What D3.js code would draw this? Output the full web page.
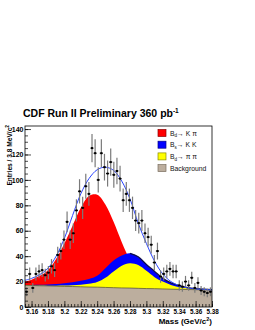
<!DOCTYPE html>
<html>
<head>
<meta charset="utf-8">
<script src="https://cdn.jsdelivr.net/npm/d3@7"></script>
<style>
	body { margin: 0; background: #fff; }
	text { font-family: "Liberation Sans", Arial, sans-serif; }
</style>
</head>
<body>
<div id="chart"></div>
<script>
// data points: entries per 3.8 MeV bin, first bin starts at 5.152
var binStart = 5.152;
var binWidth = 0.0038;
var counts = [12, 26, 15, 26, 28, 29, 25, 27, 32, 29, 41, 44, 53, 67, 53, 58, 76, 91, 78, 95,
	89, 125, 121, 100, 121, 110, 105, 114, 104, 107, 101, 84, 89, 84, 78, 68, 66, 68, 58, 55,
	49, 35, 44, 24, 26, 28, 30, 28, 28, 17, 16, 20, 17, 23, 15, 19, 13, 12, 11, 12];

// fit curves (stacked tops, in entries)
var massGrid = [5.152, 5.16, 5.17, 5.18, 5.19, 5.20, 5.21, 5.22, 5.23, 5.24, 5.25, 5.26,
	5.27, 5.28, 5.29, 5.30, 5.31, 5.32, 5.33, 5.34, 5.35, 5.36, 5.37, 5.38];
var kpiTop = [20, 21.5, 24.5, 29, 38, 50, 64, 78, 87.4, 88.3, 80.7, 67,
	51, 37, 27, 21, 17.5, 15.5, 14.5, 14.5, 14.4, 14.2, 14, 13.9];
var kkTop = [17.3, 17.4, 17.5, 17.7, 18.0, 18.6, 19.5, 20.6, 22.0, 24.5, 30.5, 36.5,
	40.5, 42.2, 39.5, 33.5, 28, 22.5, 19, 16.8, 15.3, 14.5, 14.0, 13.7];
var pipiTop = [17.1, 17.0, 16.9, 16.8, 16.8, 16.9, 17.1, 17.5, 18.2, 19.6, 23, 28,
	32.5, 34.4, 33, 28.5, 23.5, 20, 17.3, 15.6, 14.8, 14.2, 13.8, 13.5];
var bkgTop = [17.0, 16.9, 16.7, 16.6, 16.4, 16.2, 16.1, 15.9, 15.7, 15.6, 15.4, 15.2,
	15.0, 14.9, 14.7, 14.5, 14.4, 14.2, 14.0, 13.9, 13.8, 13.6, 13.5, 13.4];
var totalFit = [21, 22.5, 25.5, 30.5, 40, 54, 72, 89, 101, 108, 110, 107.5,
	99, 85, 66, 50, 36, 26, 20, 16.8, 15, 14.2, 13.8, 13.5];

var legendNames = [
	{ b: 'B', sub: 'd', rest: '\u2192 K \u03c0' },
	{ b: 'B', sub: 's', rest: '\u2192 K K' },
	{ b: 'B', sub: 'd', rest: '\u2192 \u03c0 \u03c0' },
	{ b: 'Background', sub: '', rest: '' }
];
var legendFill = ['#ff0000', '#0000ff', '#ffff00', '#bcae9e'];
var legendStroke = ['#8a0000', '#00008a', '#8a8a00', '#7a6e60'];

var xMajor = [5.16, 5.18, 5.20, 5.22, 5.24, 5.26, 5.28, 5.30, 5.32, 5.34, 5.36, 5.38];
var yMajor = [0, 20, 40, 60, 80, 100, 120, 140];

var options = {
	w: 255,
	h: 330,
	frame: { left: 25, right: 212, top: 126, bottom: 307 },
	xDomain: [5.152, 5.38],
	yDomain: [0, 142.4]
};

var svg = d3.select('#chart')
	.append('svg')
	.attr('width', options.w)
	.attr('height', options.h);

var x = d3.scaleLinear().domain(options.xDomain).range([options.frame.left, options.frame.right]);
var y = d3.scaleLinear().domain(options.yDomain).range([options.frame.bottom, options.frame.top]);

var rows = massGrid.map(function(m, i) {
	return { m: m, kpi: kpiTop[i], kk: kkTop[i], pipi: pipiTop[i], bkg: bkgTop[i], tot: totalFit[i] };
});

function areaFor(key) {
	return d3.area()
		.curve(d3.curveCatmullRom)
		.x(function(d) { return x(d.m); })
		.y0(y(0))
		.y1(function(d) { return y(d[key]); });
}
function lineFor(key) {
	return d3.line()
		.curve(d3.curveCatmullRom)
		.x(function(d) { return x(d.m); })
		.y(function(d) { return y(d[key]); });
}

svg.append('path').datum(rows).attr('d', areaFor('kpi')).attr('fill', '#ff0000');
svg.append('path').datum(rows).attr('d', areaFor('kk')).attr('fill', '#0000ff');
svg.append('path').datum(rows).attr('d', areaFor('pipi')).attr('fill', '#ffff00');
svg.append('path').datum(rows).attr('d', areaFor('bkg')).attr('fill', '#bcae9e');

// outlines
svg.append('path').datum(rows.filter(function(d) { return d.m >= 5.28; }))
	.attr('d', lineFor('kk')).attr('fill', 'none').attr('stroke', '#10104a').attr('stroke-width', 1.3);
svg.append('path').datum(rows).attr('d', lineFor('bkg'))
	.attr('fill', 'none').attr('stroke', '#4a4630').attr('stroke-width', 0.7);
svg.append('path').datum(rows).attr('d', lineFor('tot'))
	.attr('fill', 'none').attr('stroke', '#2a44ff').attr('stroke-width', 1);

// data points with poisson errors
var pts = svg.append('g').selectAll('g')
	.data(counts)
	.enter()
	.append('g');

function binCenter(d, i) { return binStart + binWidth * (i + 0.5); }

pts.append('line')
	.attr('x1', function(d, i) { return x(binCenter(d, i)); })
	.attr('x2', function(d, i) { return x(binCenter(d, i)); })
	.attr('y1', function(d) { return y(d - Math.sqrt(d)); })
	.attr('y2', function(d) { return y(d + Math.sqrt(d)); })
	.attr('stroke', '#7a7a7a')
	.attr('stroke-width', 1.2);
pts.append('line')
	.attr('x1', function(d, i) { return x(binCenter(d, i) - binWidth / 2); })
	.attr('x2', function(d, i) { return x(binCenter(d, i) + binWidth / 2); })
	.attr('y1', function(d) { return y(d); })
	.attr('y2', function(d) { return y(d); })
	.attr('stroke', '#000')
	.attr('stroke-width', 1);
pts.append('rect')
	.attr('x', function(d, i) { return x(binCenter(d, i)) - 1; })
	.attr('y', function(d) { return y(d) - 1; })
	.attr('width', 2)
	.attr('height', 2)
	.attr('fill', '#000');

// axes
var fmt = function(v) { return String(+v.toFixed(2)); };
var xMinor = d3.range(0, 58).map(function(i) { return +(5.152 + i * 0.004).toFixed(3); });
var yMinor = d3.range(0, 29).map(function(i) { return i * 5; });

var xAxis = svg.append('g')
	.attr('transform', 'translate(0,' + options.frame.bottom + ')')
	.call(d3.axisBottom(x).tickValues(xMajor).tickFormat(fmt).tickSizeInner(-6).tickSizeOuter(0).tickPadding(3));
svg.append('g')
	.attr('transform', 'translate(0,' + options.frame.bottom + ')')
	.call(d3.axisBottom(x).tickValues(xMinor).tickFormat('').tickSizeInner(-3).tickSizeOuter(0));
var yAxis = svg.append('g')
	.attr('transform', 'translate(' + options.frame.left + ',0)')
	.call(d3.axisLeft(y).tickValues(yMajor).tickSizeInner(-6).tickSizeOuter(0).tickPadding(1.5));
svg.append('g')
	.attr('transform', 'translate(' + options.frame.left + ',0)')
	.call(d3.axisLeft(y).tickValues(yMinor).tickFormat('').tickSizeInner(-3).tickSizeOuter(0));

svg.selectAll('.domain').remove();
svg.selectAll('.tick line').attr('stroke', '#000').attr('stroke-width', 0.7);
xAxis.selectAll('text').attr('font-size', 6.3).attr('font-weight', 'bold').attr('fill', '#000');
yAxis.selectAll('text').attr('font-size', 7).attr('font-weight', 'bold').attr('fill', '#000');

// frame
svg.append('rect')
	.attr('x', options.frame.left)
	.attr('y', options.frame.top)
	.attr('width', options.frame.right - options.frame.left)
	.attr('height', options.frame.bottom - options.frame.top)
	.attr('fill', 'none')
	.attr('stroke', '#000')
	.attr('stroke-width', 0.8);

// titles
var title = svg.append('text')
	.attr('x', 23)
	.attr('y', 117)
	.attr('font-size', 10.5)
	.attr('font-weight', 'bold');
title.append('tspan').text('CDF Run II Preliminary 360 pb');
title.append('tspan').attr('dy', -4.5).attr('font-size', 6.5).text('-1');

var xTitle = svg.append('text')
	.attr('x', options.frame.right)
	.attr('y', 324)
	.attr('text-anchor', 'end')
	.attr('font-size', 8)
	.attr('font-weight', 'bold');
xTitle.append('tspan').text('Mass (GeV/c');
xTitle.append('tspan').attr('dy', -3.5).attr('font-size', 5.5).text('2');
xTitle.append('tspan').attr('dy', 3.5).text(')');

var yTitle = svg.append('text')
	.attr('transform', 'translate(11.5,' + (options.frame.top - 1) + ') rotate(-90)')
	.attr('text-anchor', 'end')
	.attr('font-size', 6.6)
	.attr('font-weight', 'bold');
yTitle.append('tspan').text('Entries / 3.8 MeV/c');
yTitle.append('tspan').attr('dy', -3).attr('font-size', 4.8).text('2');

// legend
var legend = svg.append('g').selectAll('g')
	.data(legendNames)
	.enter()
	.append('g')
	.attr('transform', function(d, i) { return 'translate(158,' + (129.5 + i * 11.7) + ')'; });

legend.append('rect')
	.attr('width', 8)
	.attr('height', 7)
	.attr('fill', function(d, i) { return legendFill[i]; })
	.attr('stroke', function(d, i) { return legendStroke[i]; })
	.attr('stroke-width', 0.7);

var lt = legend.append('text')
	.attr('x', 12)
	.attr('y', 6)
	.attr('font-size', 6.8)
	.attr('fill', '#111');
lt.append('tspan').text(function(d) { return d.b; });
lt.append('tspan').attr('dy', 1.8).attr('font-size', 4.5).text(function(d) { return d.sub; });
lt.append('tspan').attr('dy', -1.8).text(function(d) { return d.rest; });
</script>
</body>
</html>
